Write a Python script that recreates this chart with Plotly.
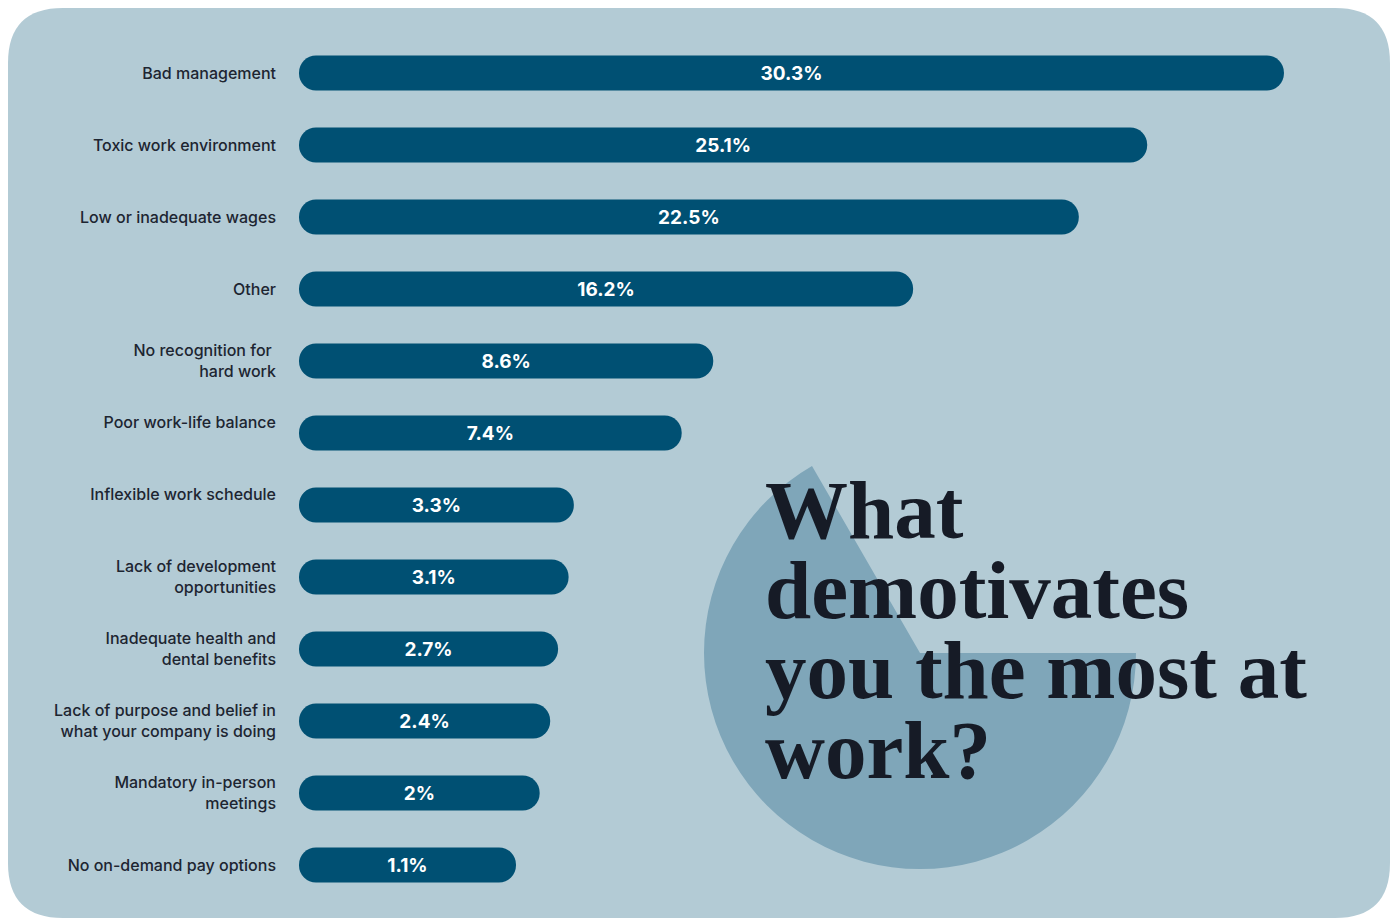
import plotly.graph_objects as go

# Survey answers, top to bottom
reasons = [
    "Bad management",
    "Toxic work environment",
    "Low or inadequate wages",
    "Other",
    "No recognition for <br>hard work",
    "Poor work-life balance<br> ",
    "Inflexible work schedule<br> ",
    "Lack of development<br>opportunities",
    "Inadequate health and<br>dental benefits",
    "Lack of purpose and belief in<br>what your company is doing",
    "Mandatory in-person<br>meetings",
    "No on-demand pay options",
]
shares = [30.3, 25.1, 22.5, 16.2, 8.6, 7.4, 3.3, 3.1, 2.7, 2.4, 2.0, 1.1]
share_labels = [f"{v:g}%" for v in shares]

title_lines = ["What", "demotivates", "you the most at", "work?"]

# Page geometry (pixels)
W, H = 1394, 921
BG = "#b3cbd5"
BAR = "#005073"
WEDGE = "#7fa6b9"
INK = "#1d2531"
TITLE_INK = "#161b26"

# every bar starts a fixed stub left of zero so short bars can hold their label
BAR_BASE = -7.15
PX_PER_UNIT = 26.3
BAR_LEFT_PX = 299

TITLE_SIZE = 83          # glyph size of the headline
TITLE_LEADING = 80       # px between headline baselines


def fx(px):
    return px / W


def fy(py):
    return 1 - py / H


fig = go.Figure()

# decorative pie wedge behind the headline (240 of 360 degrees filled)
fig.add_trace(go.Pie(
    values=[240, 120],
    marker=dict(colors=[WEDGE, "rgba(0,0,0,0)"], line=dict(width=0)),
    sort=False,
    direction="clockwise",
    rotation=90,
    textinfo="none",
    hoverinfo="skip",
    showlegend=False,
    domain=dict(x=[fx(704), fx(1136)], y=[fy(869), fy(437)]),
))

fig.add_trace(go.Bar(
    y=reasons,
    x=[v - BAR_BASE for v in shares],
    base=BAR_BASE,
    orientation="h",
    width=0.486,
    marker=dict(color=BAR, cornerradius=17, line=dict(width=0)),
    text=share_labels,
    textposition="inside",
    insidetextanchor="middle",
    textangle=0,
    textfont=dict(family="Inter", size=19, color="white", weight=700),
    hoverinfo="skip",
    showlegend=False,
))

x_max = (W - BAR_LEFT_PX) / PX_PER_UNIT + BAR_BASE

fig.update_xaxes(
    domain=[fx(BAR_LEFT_PX), 1],
    range=[BAR_BASE, x_max],
    visible=False,
    fixedrange=True,
)
fig.update_yaxes(
    domain=[fy(901), fy(37)],
    type="category",
    categoryorder="array",
    categoryarray=reasons,
    range=[len(reasons) - 0.5, -0.5],
    showgrid=False,
    zeroline=False,
    showline=False,
    ticks="",
    ticklabelstandoff=22,
    tickfont=dict(family="Inter", size=16, color=INK, weight=500),
    automargin=False,
    fixedrange=True,
)

# rounded card behind everything
x0, x1, y0, y1, r = 8, 1390, 8, 918, 55
path = (
    f"M {fx(x0 + r)} {fy(y0)} L {fx(x1 - r)} {fy(y0)} "
    f"Q {fx(x1)} {fy(y0)} {fx(x1)} {fy(y0 + r)} L {fx(x1)} {fy(y1 - r)} "
    f"Q {fx(x1)} {fy(y1)} {fx(x1 - r)} {fy(y1)} L {fx(x0 + r)} {fy(y1)} "
    f"Q {fx(x0)} {fy(y1)} {fx(x0)} {fy(y1 - r)} L {fx(x0)} {fy(y0 + r)} "
    f"Q {fx(x0)} {fy(y0)} {fx(x0 + r)} {fy(y0)} Z"
)
fig.add_shape(type="path", path=path, xref="paper", yref="paper",
              fillcolor=BG, line=dict(width=0), layer="below")

# headline: the base font size sets the line step (1.3em), inner spans set the glyph size
base_size = TITLE_LEADING / 1.3
headline = "<br>".join(
    f"<span style='font-size:{TITLE_SIZE}px'>{line}</span>" for line in title_lines
)
fig.add_annotation(
    text=headline,
    xref="paper", yref="paper",
    x=fx(763), y=fy(630),
    xanchor="left", yanchor="middle", align="left",
    showarrow=False,
    font=dict(family="Liberation Serif", size=base_size, color=TITLE_INK, weight=700),
)

fig.update_layout(
    width=W, height=H,
    margin=dict(l=0, r=0, t=0, b=0),
    paper_bgcolor="white",
    plot_bgcolor="rgba(0,0,0,0)",
    bargap=0.5,
    uniformtext=dict(minsize=10, mode="show"),
)

fig.write_html("out.html", config={"displayModeBar": False})
